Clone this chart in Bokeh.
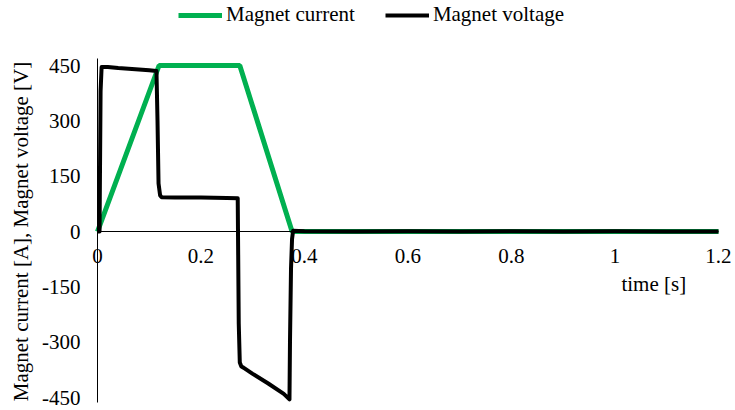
import math
from bokeh.plotting import figure
from bokeh.models import Range1d, Legend, LegendItem, Label, FixedTicker, CustomJSTickFormatter
from bokeh.embed import file_html
from bokeh.resources import INLINE

# ---- data ----
time_current = [0.0, 0.119, 0.275, 0.376, 1.2]
current = [0, 450, 450, 0, 0]

time_voltage = [0.000, 0.004, 0.006, 0.008, 0.02, 0.04, 0.06, 0.08, 0.10, 0.114,
                0.116, 0.118, 0.121, 0.124, 0.15, 0.2, 0.25, 0.271, 0.273, 0.275,
                0.278, 0.282, 0.30, 0.33, 0.36, 0.371, 0.372, 0.374, 0.376, 0.378,
                0.40, 0.5, 0.6, 0.7, 0.8, 0.9, 1.0, 1.1, 1.2]
voltage = [0, 0, 380, 446, 446, 443, 441, 439, 437, 435,
           300, 130, 98, 93, 92, 92, 91, 90, -250, -355,
           -366, -369, -386, -412, -440, -455, -300, -100, -20, 2,
           1, 0, 1, 0, 1, 0, 1, 0, 0]

x_ticks = [0, 0.2, 0.4, 0.6, 0.8, 1, 1.2]
y_ticks = [-450, -300, -150, 0, 150, 300, 450]
x_axis_bounds = (0, 1.2)
y_axis_bounds = (-463.5, 469)

series_names = ["Magnet current", "Magnet voltage"]
x_title = "time [s]"
y_title = "Magnet current [A], Magnet voltage [V]"

FONT = "Liberation Serif"
FS = "21px"
GREEN = "#00B050"

p = figure(width=735, height=410, output_backend="svg", toolbar_location=None,
           x_range=Range1d(-0.1874, 1.2329), y_range=Range1d(-485.2, 626.2),
           min_border_left=0, min_border_right=0, min_border_top=0, min_border_bottom=0)
p.outline_line_color = None
p.grid.grid_line_color = None

fmt = "return tick.toString();"

xa = p.xaxis[0]
xa.fixed_location = 0
xa.bounds = x_axis_bounds
xa.ticker = FixedTicker(ticks=x_ticks)
ya = p.yaxis[0]
ya.fixed_location = 0
ya.bounds = y_axis_bounds
ya.ticker = FixedTicker(ticks=y_ticks)

for ax in (xa, ya):
    ax.formatter = CustomJSTickFormatter(code=fmt)
    ax.major_tick_out = 0
    ax.major_tick_in = 0
    ax.minor_tick_out = 0
    ax.minor_tick_in = 0
    ax.axis_line_color = "black"
    ax.axis_line_width = 1
    ax.major_label_text_font = FONT
    ax.major_label_text_font_size = FS
    ax.major_label_text_color = "black"
xa.major_label_standoff = 17
ya.major_label_standoff = 17

r_cur = p.line(time_current, current, line_color=GREEN, line_width=5)
r_vol = p.line(time_voltage, voltage, line_color="black", line_width=4, line_join="round")

legend = Legend(items=[LegendItem(label=series_names[0], renderers=[r_cur]),
                       LegendItem(label=series_names[1], renderers=[r_vol])],
                orientation="horizontal", location=(178, 383),
                border_line_color=None, background_fill_alpha=0,
                padding=0, margin=0, spacing=30, glyph_width=44, label_standoff=4,
                label_text_font=FONT, label_text_font_size=FS, label_text_color="black")
p.add_layout(legend, "center")

p.add_layout(Label(x=1.075, y=-141, text=x_title, text_align="center", text_baseline="middle",
                   text_font=FONT, text_font_size=FS, text_color="black"))
p.add_layout(Label(x=-0.1469, y=0, text=y_title, angle=math.pi / 2,
                   text_align="center", text_baseline="middle",
                   text_font=FONT, text_font_size=FS, text_color="black"))

open("out.html", "w").write(file_html(p, INLINE))
